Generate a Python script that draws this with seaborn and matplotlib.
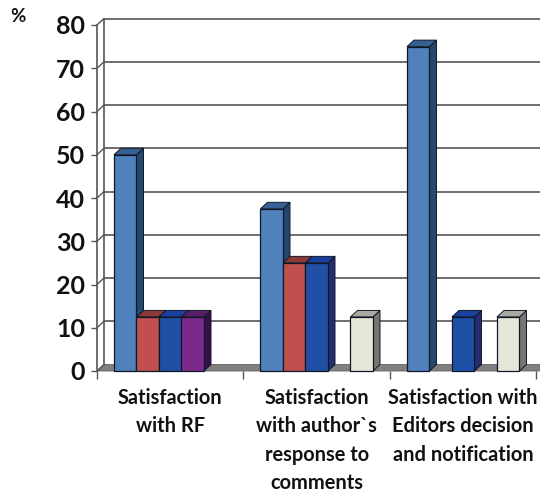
import pandas as pd
import matplotlib
matplotlib.use("Agg")
import matplotlib.pyplot as plt
from matplotlib.patches import Polygon
from matplotlib.transforms import IdentityTransform
import seaborn as sns

categories = ["Satisfaction\nwith RF",
              "Satisfaction\nwith author`s\nresponse to\ncomments",
              "Satisfaction with\nEditors decision\nand notification"]
series = ["s1", "s2", "s3", "s4", "s5"]
s1 = [50, 37.5, 75]
s2 = [12.5, 25, 0]
s3 = [12.5, 25, 12.5]
s4 = [12.5, 0, 0]
s5 = [0, 12.5, 12.5]
y_ticks = [0, 10, 20, 30, 40, 50, 60, 70, 80]

front_cols = ["#4f81bd", "#c0504d", "#1f50a5", "#7b2a8c", "#e6e6d8"]
top_cols = ["#376092", "#8c3a38", "#1a3f9c", "#581f68", "#a9aba0"]
side_cols = ["#234a6e", "#6e2a28", "#232d72", "#36104a", "#76786f"]
edge = "#101828"
grid_col = "#555555"

# depth of the fake 3d, in pixels
dx, dy = 7, 6.5

rows = []
for name, vals in zip(series, [s1, s2, s3, s4, s5]):
    for c, v in zip(categories, vals):
        rows.append({"cat": c, "series": name, "value": v})
df = pd.DataFrame(rows)

sns.set_style("white")
plt.rcParams["font.family"] = ["Lato", "DejaVu Sans"]

fig = plt.figure(figsize=(5.4, 4.93), dpi=100)
ax = fig.add_axes([97 / 540, (493 - 371) / 493, (540 - 97) / 540, (371 - 25) / 493])
ax.patch.set_alpha(0)

sns.barplot(data=df, x="cat", y="value", hue="series", hue_order=series,
            palette=front_cols, width=0.768, saturation=1, legend=False, ax=ax)

ax.set_xlim(-0.5, 2.524)
ax.set_ylim(0, 80)
ax.set_xlabel("")
ax.set_ylabel("")
sns.despine(ax=ax, top=True, right=True, bottom=True, left=False)
ax.spines["left"].set_color(grid_col)
ax.spines["left"].set_linewidth(1.2)

ax.set_yticks(y_ticks)
ax.set_xticks([0, 1, 2])
ax.set_xticklabels(categories, fontsize=14.4, fontweight="bold", linespacing=1.53, color="#111111")
ax.tick_params(axis="x", length=0, pad=12)
ax.tick_params(axis="y", length=4, width=1, color=grid_col, left=True, pad=4.5)
for lab in ax.get_yticklabels():
    lab.set_fontsize(18)
    lab.set_fontweight("bold")
    lab.set_color("#111111")
ax.set_xticks([-0.5, 0.5, 1.5, 2.5], minor=True)
ax.tick_params(axis="x", which="minor", length=6, width=1, color=grid_col, bottom=True)

px = IdentityTransform()
to_px = ax.transData.transform

# floor
(x0, y0), (x1, _) = to_px([(-0.5, 0), (2.524, 0)])
ax.add_patch(Polygon([(x0, y0), (x1, y0), (x1 + dx, y0 + dy), (x0 + dx, y0 + dy)], transform=px,
                     facecolor="#808080", edgecolor="#606060", lw=0.6, clip_on=False, zorder=1))

# back wall grid lines and the little joins to the front axis
for t in y_ticks:
    xa, ya = to_px((-0.5, t))
    ax.plot([xa, xa + dx], [ya, ya + dy], transform=px, color=grid_col, lw=1, clip_on=False, zorder=1)
    if t > 0:
        ax.plot([xa + dx, x1], [ya + dy, ya + dy], transform=px, color=grid_col, lw=1.2,
                clip_on=False, zorder=1)
xa, ya = to_px((-0.5, 0))
xb, yb = to_px((-0.5, 80))
ax.plot([xa + dx, xb + dx], [ya + dy, yb + dy], transform=px, color=grid_col, lw=1.2, clip_on=False, zorder=1)

# side and top faces, worked out from the bars seaborn drew
bars = [b for b in ax.patches if isinstance(b, matplotlib.patches.Rectangle) and b.get_height() > 0]
bars.sort(key=lambda b: b.get_x())
z = 3
for b in bars:
    i = front_cols.index(matplotlib.colors.to_hex(b.get_facecolor()))
    (l, bot), (r, top) = to_px([(b.get_x(), 0), (b.get_x() + b.get_width(), b.get_height())])
    ax.add_patch(Polygon([(r, bot), (r + dx, bot + dy), (r + dx, top + dy), (r, top)], transform=px,
                         facecolor=side_cols[i], edgecolor=edge, lw=0.7, zorder=z))
    ax.add_patch(Polygon([(l, top), (r, top), (r + dx, top + dy), (l + dx, top + dy)], transform=px,
                         facecolor=top_cols[i], edgecolor=edge, lw=0.7, zorder=z))
    b.set_edgecolor(edge)
    b.set_linewidth(0.9)
    b.set_zorder(z + 0.5)
    b.set_clip_on(False)
    z += 1

fig.text(18 / 540, 1 - 17 / 493, "%", fontsize=13.5, fontweight="bold", ha="center", va="center", color="#111111")

fig.savefig("out.png", dpi=100)
